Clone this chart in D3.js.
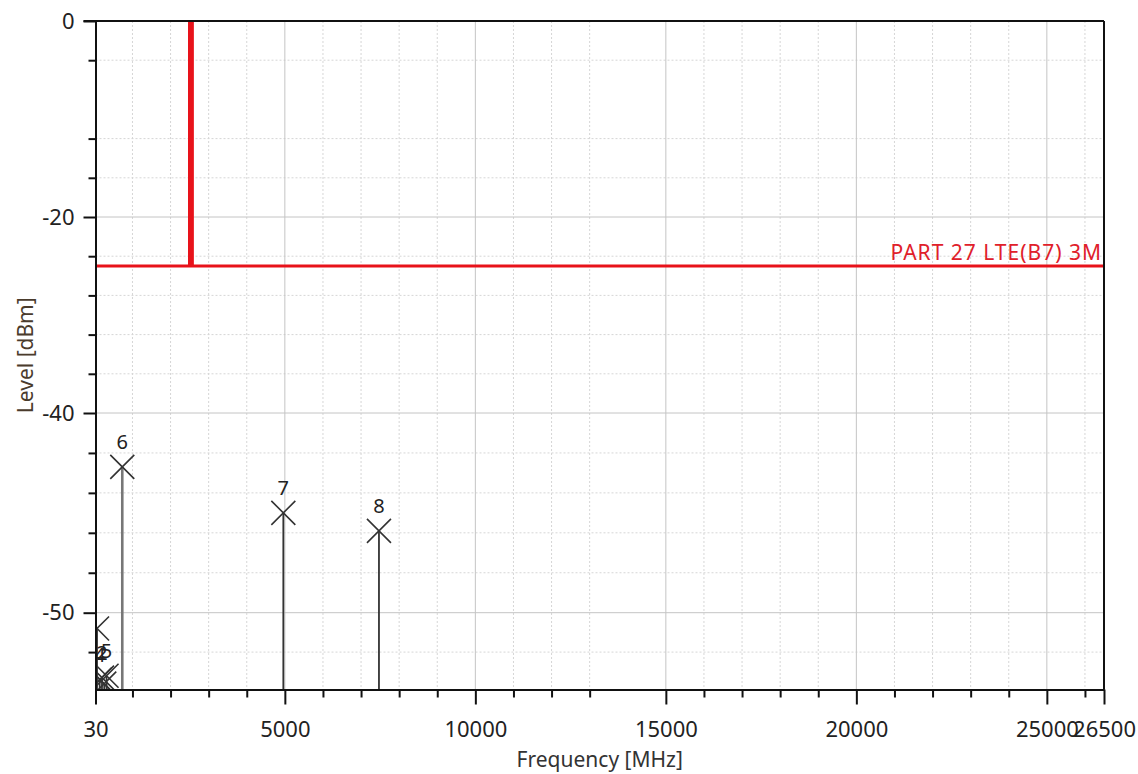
<!DOCTYPE html>
<html><head><meta charset="utf-8">
<script src="https://cdn.jsdelivr.net/npm/d3@7"></script>
<style>body{margin:0;background:#fff;} svg{display:block;font-family:"Noto Sans",sans-serif;}</style>
</head><body><svg id="c" width="1138" height="774"></svg>
<script>
// ---- data ----
const xMajorTicks = [30, 5000, 10000, 15000, 20000, 25000, 26500];
const xMinorTicks = [1000,2000,3000,4000,6000,7000,8000,9000,11000,12000,13000,16000,17000,18000,19000,21000,22000,23000,24000,26000];
const yMajorTicks = [0, -20, -40, -50];
const yMinorTicks = [-4,-12,-16,-24,-28,-32,-36,-42,-44,-46,-48,-52];
const limitFreq  = [30, 2500, 2500, 2570, 2570, 26500];
const limitLevel = [-25, -25, 10, 10, -25, -25];
const limitLabel = "PART 27 LTE(B7) 3M";
const markerIds    = ["1", "2", "3", "4", "5", "6", "7", "8"];
const markerFreq   = [70, 200, 260, 140, 320, 733, 4960, 7470];
const markerLevel  = [-50.8, -53.3, -53.6, -53.4, -53.2, -42.7, -45.0, -45.9];
const markerShown  = ["", "2", "", "4", "5", "6", "7", "8"];
const xTitle = "Frequency [MHz]";
const yTitle = "Level [dBm]";

// ---- layout ----
const L = 95.5, R = 1104, T = 21, B = 689.5;
const svg = d3.select("#c");
const x = d3.scaleLinear().domain([30, 26500]).range([L, R]);
const y = d3.scaleLinear().domain([0, -40, -50, -53.9]).range([T, 413, 612.7, B]);
const fmt = d => String(d);

svg.append("defs").append("clipPath").attr("id","pc")
  .append("rect").attr("x", L).attr("y", T).attr("width", R-L).attr("height", B-T);

// grid
const g = svg.append("g");
g.selectAll(".vmin").data(xMinorTicks).join("line")
  .attr("x1", d=>x(d)).attr("x2", d=>x(d)).attr("y1", T).attr("y2", B)
  .attr("stroke", "#d6d6d6").attr("stroke-dasharray", "2,2");
g.selectAll(".hmin").data(yMinorTicks).join("line")
  .attr("y1", d=>y(d)).attr("y2", d=>y(d)).attr("x1", L).attr("x2", R)
  .attr("stroke", "#d6d6d6").attr("stroke-dasharray", "2,2");
g.selectAll(".vmaj").data(xMajorTicks).join("line")
  .attr("x1", d=>x(d)).attr("x2", d=>x(d)).attr("y1", T).attr("y2", B)
  .attr("stroke", "#c4c4c4");
g.selectAll(".hmaj").data(yMajorTicks).join("line")
  .attr("y1", d=>y(d)).attr("y2", d=>y(d)).attr("x1", L).attr("x2", R)
  .attr("stroke", "#c4c4c4");

// limit line
const plot = svg.append("g").attr("clip-path", "url(#pc)");
const lim = limitFreq.map((f,i)=>[f, limitLevel[i]]);
plot.append("path").datum(lim)
  .attr("d", d3.line().x(d=>x(d[0])).y(d=>y(d[1])))
  .attr("fill", "none").attr("stroke", "#e8121a").attr("stroke-width", 3.2);

// markers
const mk = markerIds.map((id,i)=>({id, f: markerFreq[i], v: markerLevel[i], s: markerShown[i]}));
const mg = plot.selectAll(".mk").data(mk).join("g");
mg.append("line").attr("x1", d=>x(d.f)).attr("x2", d=>x(d.f))
  .attr("y1", d=>y(d.v)).attr("y2", B)
  .attr("stroke", d => d.id === "6" ? "#777" : "#333")
  .attr("stroke-width", d => d.id === "6" ? 2.6 : 1.8);
const hs = 12;
mg.append("path").attr("d", d => {
  const cx = x(d.f), cy = y(d.v);
  return `M${cx-hs},${cy-hs}L${cx+hs},${cy+hs}M${cx-hs},${cy+hs}L${cx+hs},${cy-hs}`;
}).attr("stroke", "#333").attr("stroke-width", 1.6).attr("fill", "none");
mg.append("text").attr("x", d=>x(d.f)).attr("y", d=>y(d.v)-18)
  .attr("text-anchor", "middle").attr("font-size", 20).attr("fill", "#222")
  .text(d=>d.s);

// limit label
svg.append("text").attr("x", 1102).attr("y", y(-25)-6.5)
  .attr("text-anchor", "end").attr("font-size", 21).attr("letter-spacing", 1).attr("fill", "#e0202a")
  .text(limitLabel);

// axes
const ax = svg.append("g");
const yMaj = ax.append("g").attr("transform", `translate(${L},0)`)
  .call(d3.axisLeft(y).tickValues(yMajorTicks).tickSize(12).tickSizeOuter(0).tickPadding(9).tickFormat(fmt));
const yMin = ax.append("g").attr("transform", `translate(${L},0)`)
  .call(d3.axisLeft(y).tickValues(yMinorTicks).tickSize(7).tickSizeOuter(0).tickFormat(""));
const xMaj = ax.append("g").attr("transform", `translate(0,${B})`)
  .call(d3.axisBottom(x).tickValues(xMajorTicks).tickSize(15).tickSizeOuter(0).tickFormat(fmt));
const xMin = ax.append("g").attr("transform", `translate(0,${B})`)
  .call(d3.axisBottom(x).tickValues(xMinorTicks).tickSize(8).tickSizeOuter(0).tickFormat(""));
ax.selectAll("path.domain").attr("stroke", "#111").attr("stroke-width", 2);
ax.selectAll(".tick line").attr("stroke", "#111").attr("stroke-width", 2);
ax.selectAll(".tick text").attr("font-size", 22).attr("fill", "#222").attr("font-family", "Noto Sans, sans-serif");
yMaj.selectAll(".tick text").attr("dy", "0.33em");
xMaj.selectAll(".tick text").attr("y", 0).attr("dy", 0).attr("transform", "translate(0,47.5)");

// top and right border
svg.append("line").attr("x1", L-12).attr("x2", R).attr("y1", T).attr("y2", T).attr("stroke", "#111").attr("stroke-width", 2);
svg.append("line").attr("x1", R).attr("x2", R).attr("y1", T).attr("y2", B).attr("stroke", "#111").attr("stroke-width", 2);

// titles
svg.append("text").attr("x", (L+R)/2).attr("y", 767).attr("text-anchor", "middle")
  .attr("font-size", 21).attr("fill", "#333").text(xTitle);
svg.append("text").attr("transform", `translate(33,${(T+B)/2}) rotate(-90)`).attr("text-anchor", "middle")
  .attr("font-size", 21).attr("fill", "#4a3b2c").text(yTitle);
</script></body></html>
